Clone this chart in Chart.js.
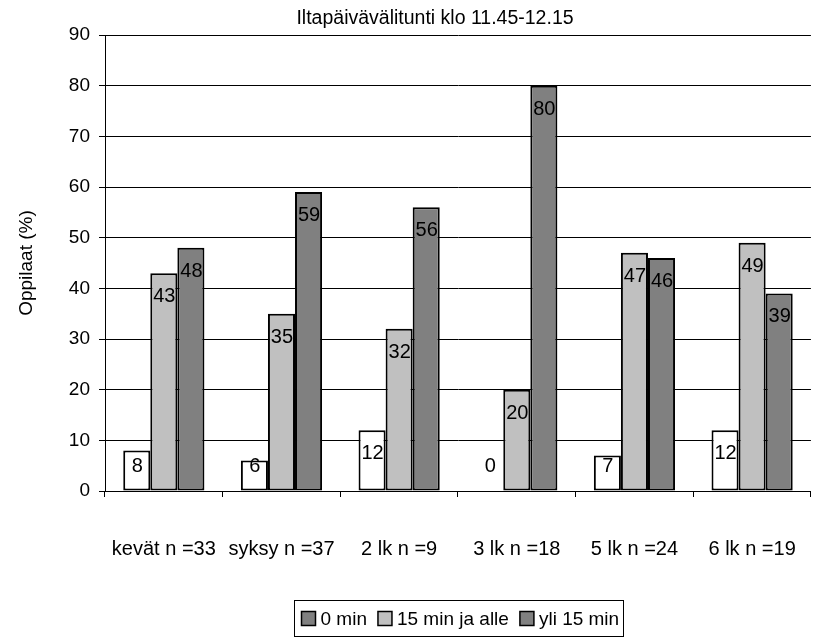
<!DOCTYPE html>
<html>
<head>
<meta charset="utf-8">
<script src="https://cdn.jsdelivr.net/npm/chart.js@4/dist/chart.umd.min.js"></script>
<style>
  html, body { margin: 0; padding: 0; background: #fff; overflow: hidden; }
  #wrap { width: 836px; height: 639px; }
</style>
</head>
<body>
<div id="wrap"><canvas id="c" width="836" height="639"></canvas></div>
<script>
// Categories (group and number of pupils)
const categories = ['kevät n =33', 'syksy n =37', '2 lk n =9', '3 lk n =18', '5 lk n =24', '6 lk n =19'];
// Share of pupils (%) per time spent outdoors
const seriesNames = ['0 min', '15 min ja alle', 'yli 15 min'];
const min0 = [8, 6, 12, 0, 7, 12];
const min15OrLess = [43, 35, 32, 20, 47, 49];
const over15 = [48, 59, 56, 80, 46, 39];
// Axis
const yMin = 0, yMax = 90, yStep = 10;
const chartTitle = 'Iltapäivävälitunti klo 11.45-12.15';
const yTitle = 'Oppilaat (%)';

const barColors = ['#FFFFFF', '#C0C0C0', '#808080'];
const legendSwatches = ['#808080', '#C0C0C0', '#808080'];
const FONT = '"Liberation Sans", Arial, sans-serif';

// Values printed inside the top end of each bar
const valueLabels = {
  id: 'valueLabels',
  afterDatasetsDraw(chart) {
    const ctx = chart.ctx;
    const base = chart.scales.y.getPixelForValue(0);
    ctx.save();
    ctx.font = '20px ' + FONT;
    ctx.fillStyle = '#000';
    ctx.textAlign = 'center';
    ctx.textBaseline = 'alphabetic';
    chart.data.datasets.forEach((ds, di) => {
      chart.getDatasetMeta(di).data.forEach((bar, i) => {
        const v = ds.data[i];
        const baseline = Math.min(bar.y + 29, base - 19);
        ctx.fillText(String(v), bar.x + 0.5, baseline);
      });
    });
    ctx.restore();
  }
};

// Title above the plot and the boxed legend below it
const frame = {
  id: 'frame',
  afterDraw(chart) {
    const ctx = chart.ctx;
    ctx.save();
    ctx.fillStyle = '#000';
    ctx.font = '19.5px ' + FONT;
    ctx.textAlign = 'center';
    ctx.textBaseline = 'alphabetic';
    ctx.fillText(chartTitle, 435, 24);

    // legend
    ctx.font = '19px ' + FONT;
    const sw = 14, gapSw = 5, gapItem = 11, padL = 7, padR = 4;
    const widths = seriesNames.map(n => ctx.measureText(n).width);
    const total = widths.reduce((a, w) => a + sw + gapSw + w, 0) + gapItem * (seriesNames.length - 1);
    const boxW = padL + total + padR;
    const cx = (chart.chartArea.left + chart.chartArea.right) / 2;
    const bx = Math.round(cx - boxW / 2) + 0.5;
    const by = 600.5, bh = 36;
    ctx.strokeStyle = '#000';
    ctx.lineWidth = 1;
    ctx.strokeRect(bx, by, Math.round(boxW), bh);
    let x = bx + padL;
    const midY = by + bh / 2;
    ctx.textAlign = 'left';
    ctx.textBaseline = 'middle';
    seriesNames.forEach((n, i) => {
      ctx.fillStyle = legendSwatches[i];
      ctx.fillRect(x, midY - sw / 2, sw, sw);
      ctx.lineWidth = 1.5;
      ctx.strokeRect(x, midY - sw / 2, sw, sw);
      x += sw + gapSw;
      ctx.fillStyle = '#000';
      ctx.fillText(n, x, midY + 1);
      x += widths[i] + gapItem;
    });
    ctx.restore();
  }
};

new Chart(document.getElementById('c'), {
  type: 'bar',
  data: {
    labels: categories,
    datasets: [min0, min15OrLess, over15].map((d, i) => ({
      label: seriesNames[i],
      data: d,
      backgroundColor: barColors[i],
      borderColor: '#000',
      borderWidth: 2,
      borderSkipped: false,
      categoryPercentage: 0.69,
      barPercentage: 1.0
    }))
  },
  options: {
    responsive: false,
    animation: false,
    devicePixelRatio: 1,
    layout: { padding: { top: 35, right: 3, left: 0, bottom: 0 } },
    plugins: {
      legend: { display: false },
      title: { display: false },
      tooltip: { enabled: false }
    },
    scales: {
      x: {
        afterFit(s) { s.height = 148; },
        grid: { display: true, drawOnChartArea: false, drawTicks: true, tickLength: 6, color: '#000', offset: true },
        border: { display: true, color: '#000', width: 1 },
        ticks: { color: '#000', font: { family: FONT, size: 20 }, padding: 40, maxRotation: 0, autoSkip: false }
      },
      y: {
        min: yMin, max: yMax,
        afterFit(s) { s.width = 105; },
        grid: { color: '#000', lineWidth: 1, tickLength: 6, drawTicks: true },
        border: { display: true, color: '#000', width: 1 },
        ticks: { stepSize: yStep, color: '#000', font: { family: FONT, size: 19 }, padding: 9 },
        title: { display: true, text: yTitle, color: '#000', font: { family: FONT, size: 19 }, padding: { top: 15, bottom: 0 } }
      }
    }
  },
  plugins: [valueLabels, frame]
});
</script>
</body>
</html>
